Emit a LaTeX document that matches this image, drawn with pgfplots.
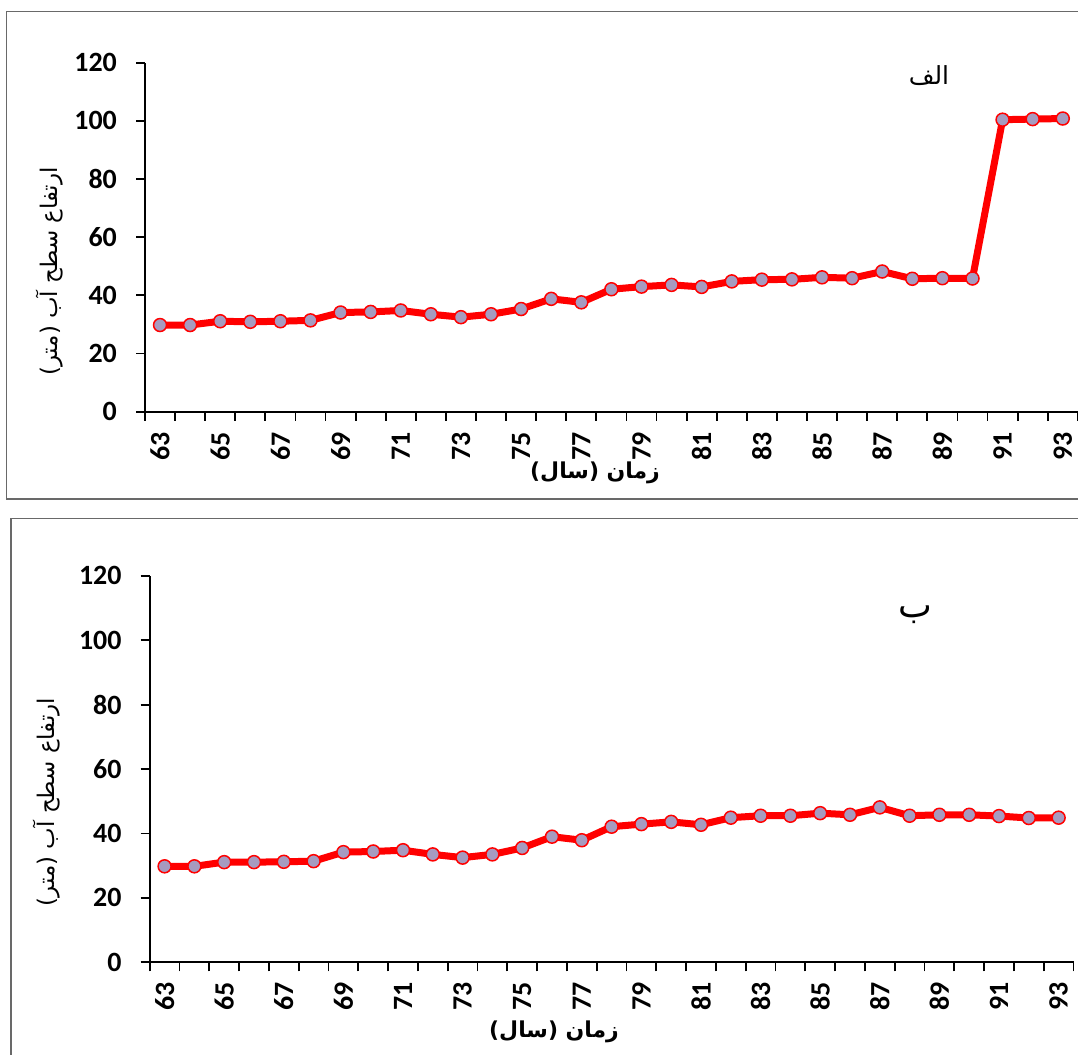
\documentclass[border=0pt]{standalone}
\usepackage{pgfplots}
\pgfplotsset{compat=1.18}
\usepackage{fontspec}
\setmainfont{Carlito}
\newfontfamily\arabicfont[Script=Arabic]{DejaVu Sans}
\TeXXeTstate=1
\definecolor{mk}{RGB}{166,155,192}
\definecolor{fr}{RGB}{105,105,105}

\pgfplotsset{
 panel/.style={
  scale only axis,
  axis lines=left,
  axis line style={line width=1.8bp, -},
  xmin=62.5, xmax=93.5, ymin=0, ymax=120,
  ytick={0,20,...,120},
  xtick={62.5,63.5,...,93.5},
  xticklabels={},
  extra x ticks={63,65,...,93},
  extra x tick labels={63,65,67,69,71,73,75,77,79,81,83,85,87,89,91,93},
  extra x tick style={major tick length=0pt},
  tick align=outside,
  major tick length=9bp,
  tick style={black, line width=1.8bp},
  ticklabel style={font=\bfseries\fontsize{28}{28}\selectfont, /pgf/number format/assume math mode=true},
  xticklabel style={rotate=90, anchor=east, inner sep=0pt},
  yticklabel style={anchor=east, inner sep=0pt},
  xticklabel shift=20bp,
  yticklabel shift=19bp,
  clip=false,
 },
 ser/.style={red, line width=7bp, mark=*, mark size=6.5bp,
   mark options={fill=mk, draw=red, line width=1.5bp}},
}

\pgfplotstableread{
yr v
63 29.8
64 29.8
65 31.1
66 30.9
67 31.1
68 31.4
69 34.1
70 34.3
71 34.8
72 33.5
73 32.5
74 33.5
75 35.3
76 38.8
77 37.6
78 42.1
79 43.0
80 43.6
81 42.9
82 44.8
83 45.4
84 45.5
85 46.2
86 45.9
87 48.2
88 45.7
89 45.9
90 45.8
91 100.4
92 100.6
93 100.8
}\dataA

\pgfplotstableread{
yr v
63 29.8
64 29.8
65 31.1
66 31.1
67 31.2
68 31.4
69 34.2
70 34.4
71 34.8
72 33.5
73 32.5
74 33.5
75 35.5
76 39.0
77 37.9
78 42.1
79 42.9
80 43.6
81 42.7
82 44.9
83 45.5
84 45.5
85 46.3
86 45.8
87 48.1
88 45.5
89 45.8
90 45.8
91 45.4
92 44.8
93 44.9
}\dataB

\begin{document}
\begin{tikzpicture}
\useasboundingbox (0,0) rectangle (1078bp,1055bp);
% frames
\draw[fr, line width=1.3bp] (6.7bp,556bp) rectangle (1100bp,1043.3bp);
\draw[fr, line width=1.3bp] (11bp,-20bp) rectangle (1100bp,536.7bp);

\begin{axis}[panel, at={(145bp,643.3bp)}, anchor=south west, width=932.8bp, height=349bp]
\addplot[ser] table[x=yr, y=v] {\dataA};
\end{axis}

\begin{axis}[panel, at={(149.7bp,92.7bp)}, anchor=south west, width=923.8bp, height=386.5bp]
\addplot[ser] table[x=yr, y=v] {\dataB};
\end{axis}

\node[rotate=90] at (50bp,783.5bp) {\arabicfont\fontsize{23}{23}\selectfont\beginR ارتفاع سطح آب (متر)\endR};
\node[rotate=90] at (47bp,253bp) {\arabicfont\fontsize{23}{23}\selectfont\beginR ارتفاع سطح آب (متر)\endR};
\node at (595bp,582bp) {\arabicfont\bfseries\fontsize{22}{22}\selectfont\beginR زمان (سال)\endR};
\node at (554bp,23bp) {\arabicfont\bfseries\fontsize{22}{22}\selectfont\beginR زمان (سال)\endR};
\node at (929bp,979bp) {\arabicfont\fontsize{25}{25}\selectfont\beginR الف\endR};
\node at (915bp,440bp) {\arabicfont\fontsize{36}{36}\selectfont\beginR ب\endR};
\end{tikzpicture}
\end{document}
